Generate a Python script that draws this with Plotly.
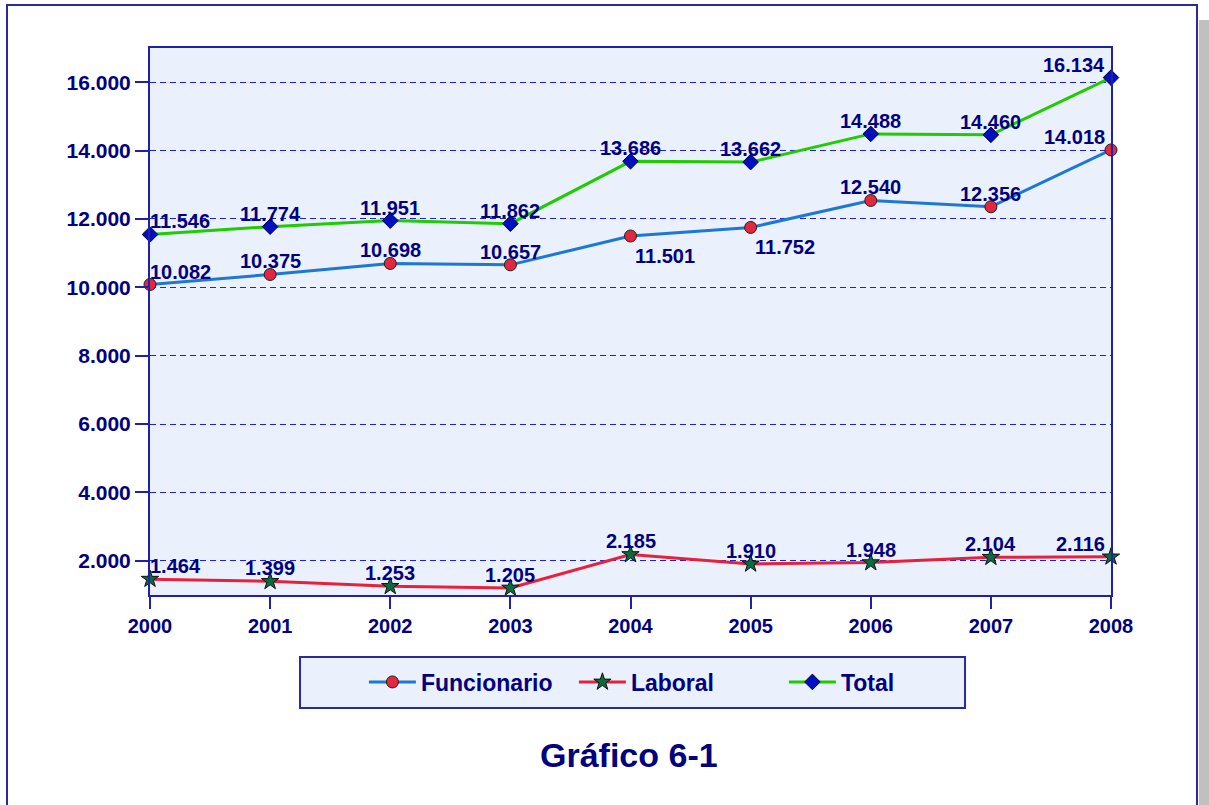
import plotly.graph_objects as go

years = [2000, 2001, 2002, 2003, 2004, 2005, 2006, 2007, 2008]
funcionario = [10082, 10375, 10698, 10657, 11501, 11752, 12540, 12356, 14018]
laboral = [1464, 1399, 1253, 1205, 2185, 1910, 1948, 2104, 2116]
total = [11546, 11774, 11951, 11862, 13686, 13662, 14488, 14460, 16134]

navy = "#000080"
frame = "#2a2aa0"
bg = "#eaf1fc"
fam = "Liberation Sans, Arial"


def fmt(v):
    return f"{v:,}".replace(",", ".")


fig = go.Figure()
fig.add_trace(go.Scatter(
    x=years, y=funcionario, name="Funcionario", mode="lines+markers",
    line=dict(color="#1c78d2", width=3),
    marker=dict(symbol="circle", size=12, color="#e2283e", line=dict(color="#202020", width=1)),
    cliponaxis=False,
))
fig.add_trace(go.Scatter(
    x=years, y=laboral, name="Laboral", mode="lines+markers",
    line=dict(color="#e8203c", width=3),
    marker=dict(symbol="star", size=13, color="#0a6a40", line=dict(color="#101010", width=1)),
    cliponaxis=False,
))
fig.add_trace(go.Scatter(
    x=years, y=total, name="Total", mode="lines+markers",
    line=dict(color="#1ecc00", width=3),
    marker=dict(symbol="diamond", size=12, color="#0010c0", line=dict(color="#000040", width=1)),
    cliponaxis=False,
))

# data labels (above the points, kept inside the plot at the edges)
below = {("f", 2004): -20, ("f", 2005): -20}
annotations = []
for key, series in (("f", funcionario), ("l", laboral), ("t", total)):
    for i, (yr, v) in enumerate(zip(years, series)):
        xanchor, xshift, yshift = "center", 0, 13
        if i == 0:
            xanchor, xshift = "left", -2
        elif i == len(years) - 1:
            xanchor, xshift = "right", -4
        if (key, yr) in below:
            xanchor, xshift, yshift = "left", 2, below[(key, yr)]
        annotations.append(dict(
            x=yr, y=v, xref="x", yref="y", text=f"<b>{fmt(v)}</b>", showarrow=False,
            xanchor=xanchor, yanchor="middle", xshift=xshift, yshift=yshift,
            font=dict(family=fam, size=20, color=navy),
        ))

annotations.append(dict(
    text="<b>Gráfico 6-1</b>", xref="paper", yref="paper", x=0.4984, y=-0.2925,
    xanchor="center", yanchor="middle", showarrow=False,
    font=dict(family=fam, size=34, color=navy),
))

fig.update_layout(
    width=1209, height=805,
    margin=dict(l=150, r=98, t=48, b=210),
    paper_bgcolor="white", plot_bgcolor=bg,
    separators=",.",
    font=dict(family=fam, size=20, color=navy),
    showlegend=True,
    legend=dict(
        orientation="h", x=0.2226, xanchor="left", y=-0.159, yanchor="middle",
        bgcolor="rgba(0,0,0,0)", borderwidth=0,
        font=dict(family=fam, size=23, color=navy, weight="bold"),
        itemwidth=47, entrywidth=148, entrywidthmode="pixels",
    ),
    annotations=annotations,
    shapes=[
        # drop shadow and outer frame
        dict(type="rect", xref="paper", yref="paper", x0=1.0916, x1=1.11, y0=-0.5, y1=1.051,
             fillcolor="#c0c0c0", line=dict(width=0), layer="below"),
        dict(type="rect", xref="paper", yref="paper", x0=-0.1488, x1=1.0895, y0=-0.5, y1=1.0786,
             fillcolor="rgba(0,0,0,0)", line=dict(color=frame, width=2)),
        # legend box
        dict(type="rect", xref="paper", yref="paper", x0=0.1561, x1=0.8481, y0=-0.2066, y1=-0.1133,
             fillcolor=bg, line=dict(color=frame, width=2), layer="below"),
    ],
)
fig.update_xaxes(
    range=[2000, 2008], tickmode="array", tickvals=years, ticktext=[str(y) for y in years],
    showgrid=False, showline=True, linecolor="#2020a8", linewidth=2, mirror=True,
    ticks="outside", ticklen=12, tickcolor="#2020a8", tickwidth=2,
    tickfont=dict(family=fam, size=20, color=navy, weight="bold"),
    zeroline=False,
)
fig.update_yaxes(
    range=[1000, 17000], tick0=0, dtick=2000, tickformat=",d",
    showgrid=True, gridcolor="#2020d8", griddash="6px,4px", gridwidth=1,
    showline=True, linecolor="#2020a8", linewidth=2, mirror=True,
    ticks="outside", ticklen=13, tickcolor="#2020a8", tickwidth=2,
    tickfont=dict(family=fam, size=21, color=navy, weight="bold"),
    zeroline=False,
)

fig.write_html("out.html", config={"displayModeBar": False},
               post_script="document.body.style.margin='0';")
